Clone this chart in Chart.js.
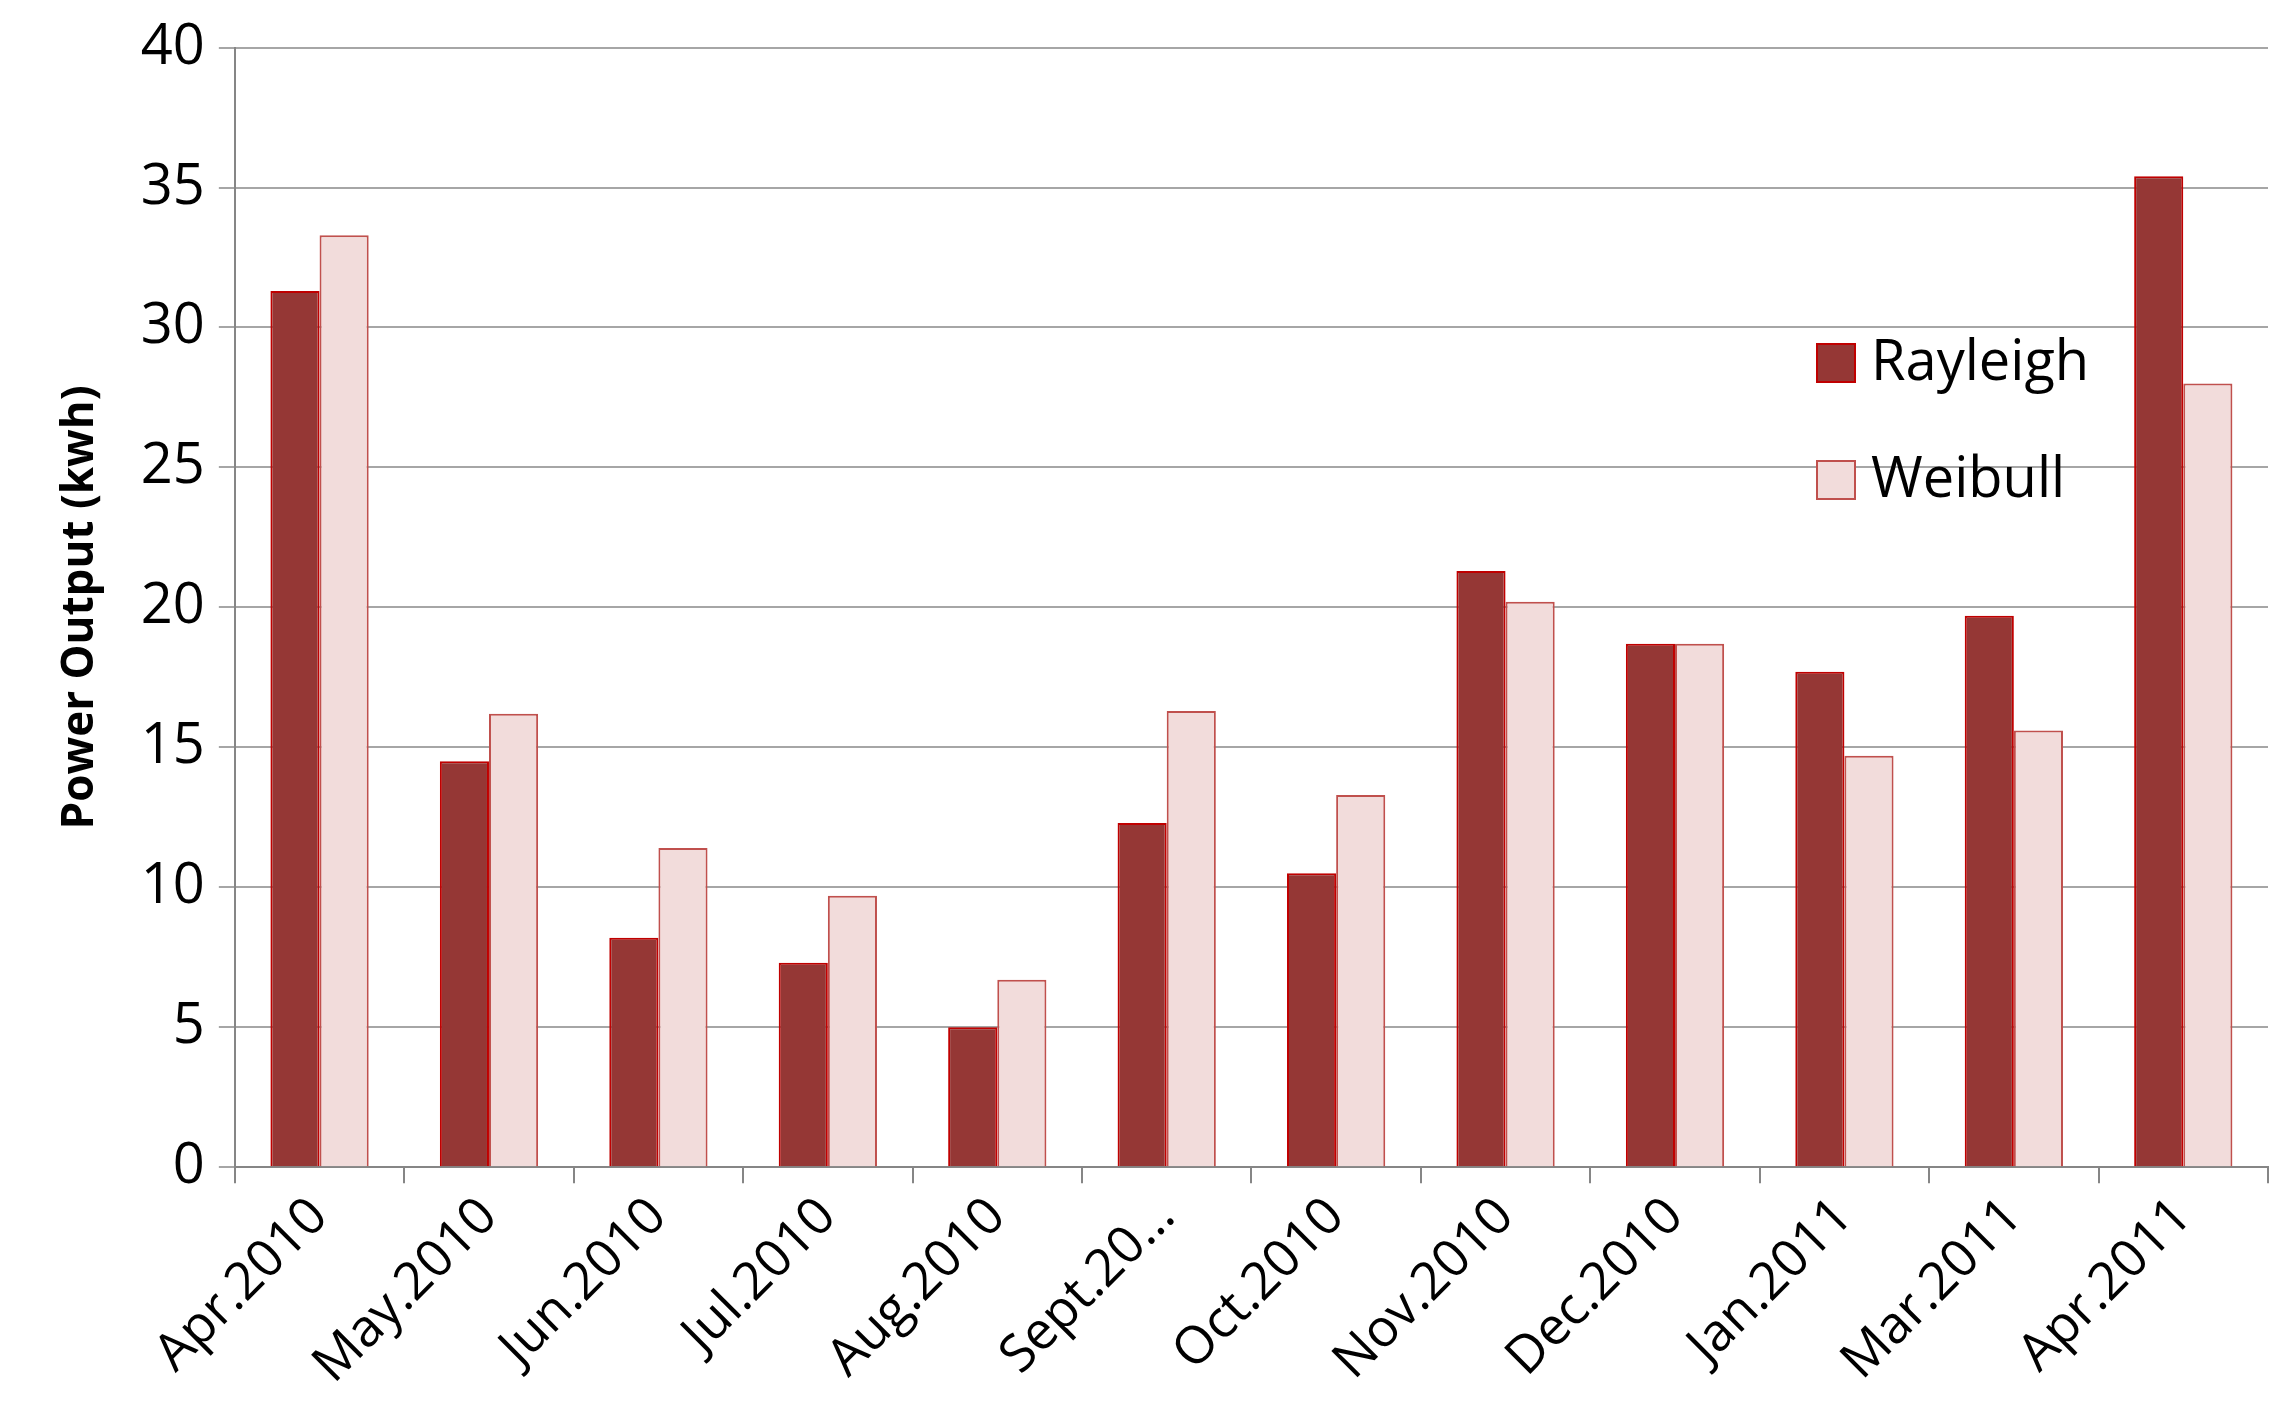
<!DOCTYPE html>
<html>
<head>
<meta charset="utf-8">
<script src="https://cdn.jsdelivr.net/npm/chart.js@4/dist/chart.umd.min.js"></script>
<style>
  html, body { margin: 0; padding: 0; background: #fff; }
</style>
</head>
<body>
<canvas id="chart" width="2288" height="1419"></canvas>
<script>
const months = ['Apr.2010', 'May.2010', 'Jun.2010', 'Jul.2010', 'Aug.2010', 'Sept.20\u2026',
    'Oct.2010', 'Nov.2010', 'Dec.2010', 'Jan.2011', 'Mar.2011', 'Apr.2011'];
const rayleigh = [31.3, 14.5, 8.2, 7.3, 5.0, 12.3, 10.5, 21.3, 18.7, 17.7, 19.7, 35.4];
const weibull = [33.3, 16.2, 11.4, 9.7, 6.7, 16.3, 13.3, 20.2, 18.7, 14.7, 15.6, 28.0];

const fontFamily = '"Open Sans", "Liberation Sans", sans-serif';

// legend drawn inside the plot, right side
const insideLegend = {
    id: 'insideLegend',
    afterDraw(chart) {
        const ctx = chart.ctx;
        const items = chart.data.datasets;
        const x = 1817, y0 = 364, gap = 117;
        ctx.save();
        items.forEach((ds, i) => {
            const y = y0 + i * gap;
            ctx.fillStyle = ds.backgroundColor;
            ctx.strokeStyle = ds.borderColor;
            ctx.lineWidth = 2;
            ctx.fillRect(x, y - 20, 38, 38);
            ctx.strokeRect(x, y - 20, 38, 38);
            ctx.fillStyle = '#000';
            ctx.font = '56px ' + fontFamily;
            ctx.textBaseline = 'middle';
            ctx.fillText(ds.label, x + 54, y);
        });
        ctx.restore();
    }
};

new Chart(document.getElementById('chart'), {
    type: 'bar',
    data: {
        labels: months,
        datasets: [{
            label: 'Rayleigh',
            data: rayleigh,
            backgroundColor: '#953735',
            borderColor: '#c00000',
            borderWidth: 2
        }, {
            label: 'Weibull',
            data: weibull,
            backgroundColor: '#f2dcdb',
            borderColor: '#c0504d',
            borderWidth: 2
        }]
    },
    options: {
        responsive: false,
        animation: false,
        categoryPercentage: 0.58,
        barPercentage: 1.0,
        layout: { padding: { top: 40, right: 20, left: 50, bottom: 20 } },
        plugins: { legend: { display: false }, tooltip: { enabled: false } },
        scales: {
            x: {
                grid: { offset: true, drawOnChartArea: false, color: '#868686', lineWidth: 2, tickLength: 16 },
                border: { color: '#868686', width: 2 },
                ticks: {
                    color: '#000', minRotation: 45, maxRotation: 45, autoSkip: false,
                    font: { family: fontFamily, size: 52 }
                }
            },
            y: {
                min: 0, max: 40,
                ticks: { stepSize: 5, color: '#000', padding: 14, font: { family: fontFamily, size: 56 } },
                grid: { color: '#a6a6a6', lineWidth: 2, tickLength: 16 },
                border: { color: '#868686', width: 2 },
                title: {
                    display: true, text: 'Power Output (kwh)', color: '#000', padding: { bottom: 20 },
                    font: { family: fontFamily, size: 44, weight: 'bold' }
                }
            }
        }
    },
    plugins: [insideLegend]
});
</script>
</body>
</html>
